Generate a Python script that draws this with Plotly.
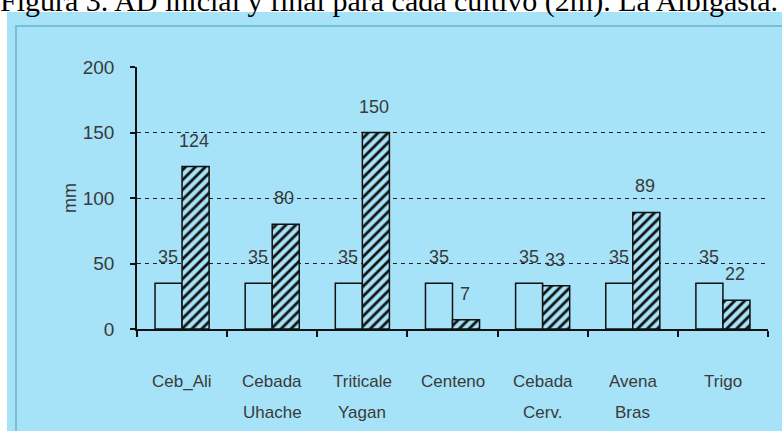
import plotly.graph_objects as go

# ---- data ----
categories = ["Ceb_Ali", "Cebada Uhache", "Triticale Yagan", "Centeno",
              "Cebada Cerv.", "Avena Bras", "Trigo"]
ad_inicial = [35, 35, 35, 35, 35, 35, 35]
ad_final = [124, 80, 150, 7, 33, 89, 22]
y_ticks = [0, 50, 100, 150, 200]
title_text = "Figura 3. AD inicial y final para cada cultivo (2m). La Albigasta."
y_title = "mm"

# ---- style ----
W, H = 782, 431
ML, MR, MT, MB = 137, 14, 67, 102
PW, PH = W - ML - MR, H - MT - MB
BG = "rgb(166,227,248)"
TXT = "#3a3a3a"
FONT = "Liberation Sans, Arial, sans-serif"


def px_x(p):
    return (p - ML) / PW


def px_y(p):
    return (H - MB - p) / PH


fig = go.Figure()
fig.add_trace(go.Bar(
    x=categories, y=ad_inicial, name="AD inicial",
    marker=dict(color=BG, line=dict(color="#111", width=1.5)),
    hoverinfo="x+y",
))
fig.add_trace(go.Bar(
    x=categories, y=ad_final, name="AD final",
    marker=dict(color=BG, line=dict(color="#111", width=1.5),
                pattern=dict(shape="/", fgcolor="#111", bgcolor=BG,
                             size=7, solidity=0.4, fillmode="replace")),
    hoverinfo="x+y",
))

annotations = []
# value labels above bars
for c, v in zip(categories, ad_inicial):
    annotations.append(dict(x=c, y=v, xref="x", yref="y", text=str(v),
                            showarrow=False, xshift=-14, yshift=26,
                            font=dict(family=FONT, size=18, color=TXT)))
for c, v in zip(categories, ad_final):
    annotations.append(dict(x=c, y=v, xref="x", yref="y", text=str(v),
                            showarrow=False, xshift=12, yshift=26,
                            font=dict(family=FONT, size=18, color=TXT)))
# category labels (two rows)
for c in categories:
    parts = c.split(" ", 1)
    annotations.append(dict(x=c, y=px_y(381), xref="x", yref="paper",
                            text=parts[0], showarrow=False, yanchor="middle",
                            font=dict(family=FONT, size=17, color=TXT)))
    if len(parts) > 1:
        annotations.append(dict(x=c, y=px_y(413), xref="x", yref="paper",
                                text=parts[1], showarrow=False, yanchor="middle",
                                font=dict(family=FONT, size=17, color=TXT)))
# y axis title
annotations.append(dict(x=px_x(58), y=px_y(198), xref="paper", yref="paper",
                        text=y_title, textangle=-90, showarrow=False,
                        font=dict(family=FONT, size=18, color=TXT)))
# cut-off caption at top
annotations.append(dict(x=px_x(-2), y=px_y(20), xref="paper", yref="paper",
                        xanchor="left", yanchor="bottom", text=title_text,
                        showarrow=False,
                        font=dict(family="Liberation Serif, Times New Roman, serif",
                                  size=30, color="#000")))

shapes = [
    dict(type="rect", xref="paper", yref="paper", layer="below",
         x0=px_x(7), x1=px_x(W + 20), y0=px_y(H + 20), y1=px_y(12),
         fillcolor=BG, line=dict(width=0)),
    dict(type="rect", xref="paper", yref="paper", layer="below",
         x0=px_x(16), x1=px_x(W + 20), y0=px_y(H + 20), y1=px_y(26),
         fillcolor="rgba(0,0,0,0)", line=dict(color="rgb(120,190,212)", width=2)),
]

fig.update_layout(
    width=W, height=H,
    margin=dict(l=ML, r=MR, t=MT, b=MB),
    paper_bgcolor="white", plot_bgcolor="rgba(0,0,0,0)",
    barmode="group", bargap=0.4, bargroupgap=0,
    showlegend=False,
    annotations=annotations, shapes=shapes,
    xaxis=dict(type="category", range=[-0.5, len(categories) - 0.5],
               showticklabels=False, ticks="outside", tickson="boundaries",
               ticklen=6, tickcolor="#111", tickwidth=1.5,
               showline=True, linecolor="#111", linewidth=1.5,
               showgrid=False, zeroline=False, fixedrange=True),
    yaxis=dict(range=[0, 200], tickvals=y_ticks, ticks="outside",
               ticklen=5, tickcolor="#111", tickwidth=1.5,
               showline=True, linecolor="#111", linewidth=1.5,
               showgrid=True, gridcolor="#222", gridwidth=1.3,
               griddash="4px,4px", zeroline=False,
               ticklabelstandoff=12,
               tickfont=dict(family=FONT, size=19, color=TXT),
               fixedrange=True),
)

fig.write_html(
    "out.html",
    config={"displayModeBar": False},
    post_script="document.body.style.margin='0';document.body.style.overflow='hidden';",
)
